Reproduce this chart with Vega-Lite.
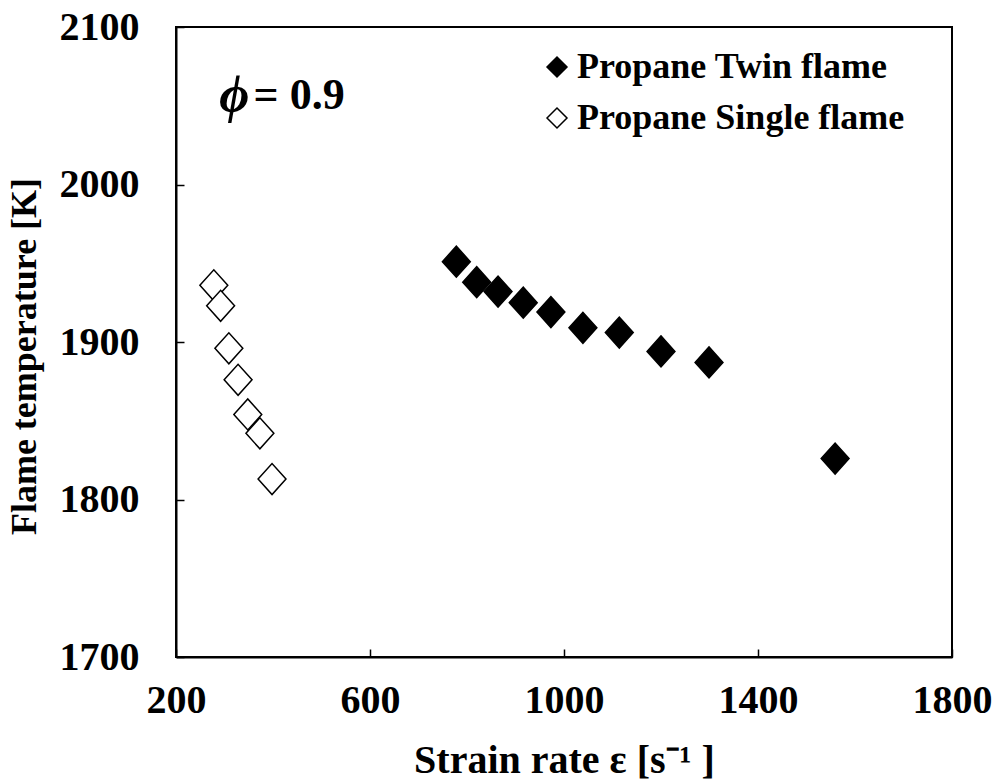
{
  "$schema": "https://vega.github.io/schema/vega-lite/v6.json",
  "width": 776,
  "height": 630,
  "autosize": {"type": "none"},
  "padding": {"left": 176, "top": 27, "right": 42, "bottom": 127},
  "background": "white",
  "config": {
    "view": {"stroke": "black", "strokeWidth": 2},
    "font": "Times New Roman, Liberation Serif, serif",
    "axis": {
      "labelFont": "Times New Roman, Liberation Serif, serif",
      "labelFontWeight": "bold",
      "labelFontSize": 40,
      "labelColor": "black",
      "titleFont": "Times New Roman, Liberation Serif, serif",
      "titleFontWeight": "bold",
      "titleFontSize": 40,
      "titleColor": "black",
      "domainColor": "black",
      "domainWidth": 2,
      "tickColor": "black",
      "tickWidth": 1.5,
      "grid": false,
      "format": "d"
    }
  },
  "layer": [
    {
      "data": {
        "values": [
          {"strain": 778, "temp": 1951, "series": "Propane Twin flame"},
          {"strain": 820, "temp": 1938, "series": "Propane Twin flame"},
          {"strain": 864, "temp": 1932, "series": "Propane Twin flame"},
          {"strain": 916, "temp": 1925, "series": "Propane Twin flame"},
          {"strain": 973, "temp": 1919, "series": "Propane Twin flame"},
          {"strain": 1039, "temp": 1909, "series": "Propane Twin flame"},
          {"strain": 1114, "temp": 1906, "series": "Propane Twin flame"},
          {"strain": 1200, "temp": 1894, "series": "Propane Twin flame"},
          {"strain": 1299, "temp": 1887, "series": "Propane Twin flame"},
          {"strain": 1559, "temp": 1826, "series": "Propane Twin flame"},
          {"strain": 278, "temp": 1936, "series": "Propane Single flame"},
          {"strain": 292, "temp": 1923, "series": "Propane Single flame"},
          {"strain": 309, "temp": 1896, "series": "Propane Single flame"},
          {"strain": 328, "temp": 1876, "series": "Propane Single flame"},
          {"strain": 348, "temp": 1854, "series": "Propane Single flame"},
          {"strain": 373, "temp": 1842, "series": "Propane Single flame"},
          {"strain": 398, "temp": 1813, "series": "Propane Single flame"}
        ]
      },
      "mark": {
        "type": "point",
        "filled": true,
        "shape": "M-0.9,0L0,-1L0.9,0L0,1Z",
        "size": 960,
        "stroke": "black",
        "strokeWidth": 1.5,
        "opacity": 1
      },
      "encoding": {
        "x": {
          "field": "strain",
          "type": "quantitative",
          "scale": {"domain": [200, 1800], "nice": false, "zero": false},
          "axis": {
            "values": [200, 600, 1000, 1400, 1800],
            "title": "Strain rate ε [s⁻¹ ]",
            "tickSize": -8,
            "labelPadding": 31,
            "titlePadding": 20,
            "labelFlush": false
          }
        },
        "y": {
          "field": "temp",
          "type": "quantitative",
          "scale": {"domain": [1700, 2100], "nice": false, "zero": false},
          "axis": {
            "values": [1700, 1800, 1900, 2000, 2100],
            "title": "Flame temperature [K]",
            "titleFontSize": 36,
            "titleY": 329,
            "tickSize": -8,
            "labelPadding": 45,
            "titlePadding": 16,
            "labelFlush": false
          }
        },
        "fill": {
          "field": "series",
          "type": "nominal",
          "scale": {
            "domain": ["Propane Twin flame", "Propane Single flame"],
            "range": ["black", "white"]
          },
          "legend": {
            "title": null,
            "orient": "none",
            "legendX": 363,
            "legendY": 22,
            "symbolType": "M-1,0L0,-1L1,0L0,1Z",
            "symbolSize": 400,
            "symbolStrokeColor": "black",
            "symbolStrokeWidth": 1.5,
            "labelFont": "Times New Roman, Liberation Serif, serif",
            "labelFontWeight": "bold",
            "labelFontSize": 36,
            "labelColor": "black",
            "labelOffset": 2,
            "rowPadding": 15,
            "labelLimit": 600
          }
        }
      }
    },
    {
      "data": {"values": [{"strain": 320, "temp": 2056, "label": "ϕ"}]},
      "mark": {
        "type": "text",
        "font": "Times New Roman, Liberation Serif, serif",
        "fontStyle": "italic",
        "fontWeight": "bold",
        "fontSize": 52,
        "align": "center",
        "baseline": "middle",
        "color": "black"
      },
      "encoding": {
        "x": {"field": "strain", "type": "quantitative"},
        "y": {"field": "temp", "type": "quantitative"},
        "text": {"field": "label"}
      }
    },
    {
      "data": {"values": [{"strain": 360, "temp": 2056, "label": "= 0.9"}]},
      "mark": {
        "type": "text",
        "font": "Times New Roman, Liberation Serif, serif",
        "fontWeight": "bold",
        "fontSize": 44,
        "align": "left",
        "baseline": "middle",
        "color": "black"
      },
      "encoding": {
        "x": {"field": "strain", "type": "quantitative"},
        "y": {"field": "temp", "type": "quantitative"},
        "text": {"field": "label"}
      }
    }
  ]
}
